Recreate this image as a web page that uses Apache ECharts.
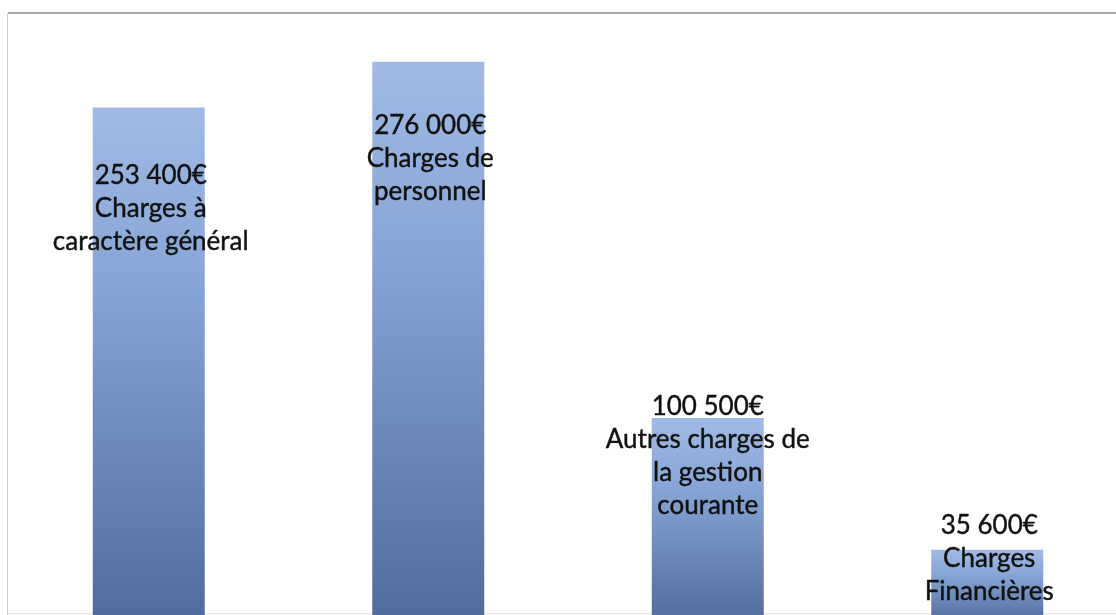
<!DOCTYPE html>
<html>
<head>
<meta charset="utf-8">
<script src="https://cdn.jsdelivr.net/npm/echarts@6/dist/echarts.min.js"></script>
<style>
html,body{margin:0;padding:0;background:#fff;overflow:hidden;}
#chart{width:1130px;height:630px;}
</style>
</head>
<body>
<div id="chart"></div>
<script>
const categories = [
  "Charges à\ncaractère général",
  "Charges de\npersonnel",
  "Autres charges de\nla gestion\ncourante",
  "Charges\nFinancières"
];
const values = [253400, 276000, 100500, 35600];

function fmtEuro(v) {
  return String(v).replace(/\B(?=(\d{3})+(?!\d))/g, " ") + "€";
}

// label offsets (style only)
const labelOffsets = [[2, 151], [2, 146], [0, 104], [2, 58]];

const chart = echarts.init(document.getElementById('chart'));
const barGradient = new echarts.graphic.LinearGradient(0, 0, 0, 1, [
  { offset: 0, color: '#a1bae5' },
  { offset: 0.35, color: '#86a4d5' },
  { offset: 1, color: '#506c9c' }
]);

chart.setOption({
  animation: false,
  backgroundColor: '#ffffff',
  grid: { left: 9, top: 13, width: 1118, height: 609, containLabel: false },
  xAxis: {
    type: 'category',
    data: categories,
    axisLine: { show: false },
    axisTick: { show: false },
    axisLabel: { show: false }
  },
  yAxis: {
    type: 'value',
    min: 0,
    max: 300000,
    show: false,
    splitLine: { show: false }
  },
  graphic: [
    { type: 'line', shape: { x1: 8, y1: 13, x2: 1116, y2: 13 }, style: { stroke: '#8a8a8a', lineWidth: 1.5 }, z: 10 },
    { type: 'line', shape: { x1: 7.5, y1: 13, x2: 7.5, y2: 615 }, style: { stroke: '#cfcfcf', lineWidth: 1 }, z: 10 },
    { type: 'line', shape: { x1: 8, y1: 613.5, x2: 1116, y2: 613.5 }, style: { stroke: '#e2e2e2', lineWidth: 1 }, z: 1 }
  ],
  series: [{
    type: 'bar',
    barWidth: 112,
    data: values.map((v, i) => ({
      value: v,
      label: { offset: labelOffsets[i] }
    })),
    itemStyle: { color: barGradient },
    label: {
      show: true,
      position: 'top',
      distance: 0,
      color: '#111111',
      fontFamily: 'Lato',
      fontSize: 26,
      lineHeight: 33,
      align: 'center',
      textBorderColor: '#111111',
      textBorderWidth: 0.4,
      formatter: p => fmtEuro(p.value) + "\n" + categories[p.dataIndex]
    }
  }]
});
</script>
</body>
</html>
